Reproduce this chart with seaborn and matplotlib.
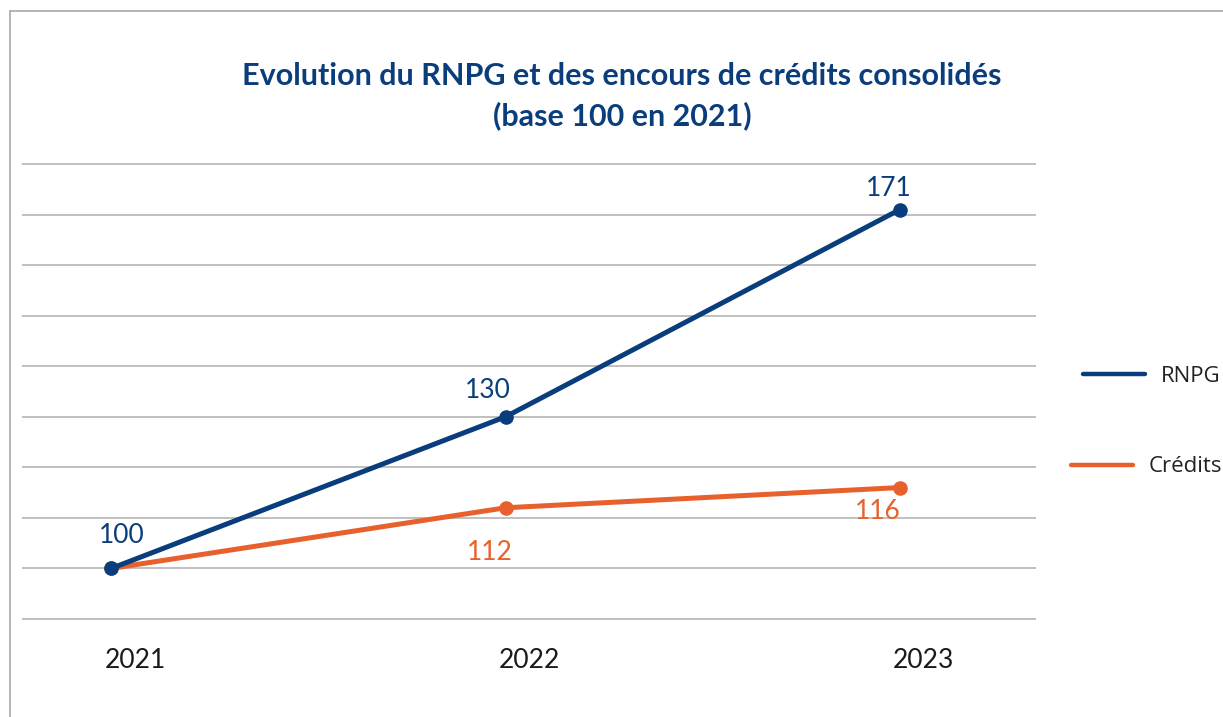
import numpy as np
import pandas as pd
import matplotlib
matplotlib.use('Agg')
import matplotlib.pyplot as plt
import matplotlib.transforms as mtransforms
import seaborn as sns
from matplotlib.lines import Line2D

# données (base 100 en 2021)
years = ['2021', '2022', '2023']
rnpg = [100, 130, 171]
credits = [100, 112, 116]
series_names = ['RNPG', 'Crédits']

BLUE = '#0a3d7c'
ORANGE = '#e8602c'
GRID = '#b4b4b4'

df = pd.DataFrame({
    'annee': years * 2,
    'valeur': rnpg + credits,
    'serie': [series_names[0]] * len(years) + [series_names[1]] * len(years),
})

sns.set_theme(style='white')
plt.rcParams['font.family'] = ['Lato', 'DejaVu Sans']

W, H = 1223, 717
fig = plt.figure(figsize=(W / 100, H / 100), dpi=100)
ax = fig.add_axes([22 / W, 1 - 620 / H, (1036 - 22) / W, (620 - 163) / H])

sns.lineplot(data=df, x='annee', y='valeur', hue='serie', hue_order=series_names,
             palette=[BLUE, ORANGE], marker='o', markersize=10.5, markeredgewidth=0,
             linewidth=3.6, legend=False, ax=ax, sort=False)
# la courbe RNPG passe au-dessus
ax.lines[0].set_zorder(4)
ax.lines[1].set_zorder(3)

ax.set_xlim(-0.226, 2.345)
ax.set_ylim(89.8, 180.2)
ax.set_yticks(np.arange(90, 181, 10))
ax.yaxis.grid(True, color=GRID, linewidth=1.2)
ax.xaxis.grid(False)
ax.set_yticklabels([])
ax.tick_params(axis='both', length=0)
ax.tick_params(axis='x', pad=20, labelsize=19, labelcolor='#1a1a1a')
ax.set_xlabel('')
ax.set_ylabel('')
for s in ax.spines.values():
    s.set_visible(False)

# libellés d'années décalés vers la droite comme dans l'original
shift = mtransforms.ScaledTranslation(24 / 100, 0, fig.dpi_scale_trans)
for lab in ax.get_xticklabels():
    lab.set_transform(lab.get_transform() + shift)

# étiquettes de valeurs
offs_rnpg = [(8, 24), (-13, 19), (-8, 15)]
offs_cred = [None, (-11, -32), (-16, -17)]
for i, v in enumerate(rnpg):
    ax.annotate(str(v), (i, v), xytext=offs_rnpg[i], textcoords='offset points',
                ha='center', va='center', fontsize=19, color=BLUE)
for i, v in enumerate(credits):
    if offs_cred[i] is None:
        continue
    ax.annotate(str(v), (i, v), xytext=offs_cred[i], textcoords='offset points',
                ha='center', va='center', fontsize=19, color=ORANGE)

fig.text(622 / W, 1 - 96 / H,
         'Evolution du RNPG et des encours de crédits consolidés\n(base 100 en 2021)',
         ha='center', va='center', fontsize=22, fontweight='bold', color=BLUE,
         linespacing=1.5)

# légende : deux entrées, légèrement décalées
leg_font = {'family': ['Open Sans', 'DejaVu Sans'], 'size': 16}
leg1 = fig.legend([Line2D([], [], color=BLUE, lw=3.2)], [series_names[0]],
                  loc='center left', bbox_to_anchor=(1083 / W, 1 - 376 / H),
                  frameon=False, handlelength=2.8, handletextpad=0.7,
                  borderpad=0, borderaxespad=0, prop=leg_font)
leg2 = fig.legend([Line2D([], [], color=ORANGE, lw=3.2)], [series_names[1]],
                  loc='center left', bbox_to_anchor=(1071 / W, 1 - 467 / H),
                  frameon=False, handlelength=2.8, handletextpad=0.7,
                  borderpad=0, borderaxespad=0, prop=leg_font)
for lg in (leg1, leg2):
    for t in lg.get_texts():
        t.set_color('#222222')

# cadre
fig.add_artist(Line2D([10 / W, 1], [1 - 11 / H, 1 - 11 / H], color='#a8a8a8', lw=1.2))
fig.add_artist(Line2D([10 / W, 10 / W], [0, 1 - 11 / H], color='#a8a8a8', lw=1.2))

fig.savefig('out.png', dpi=100)
plt.close(fig)
